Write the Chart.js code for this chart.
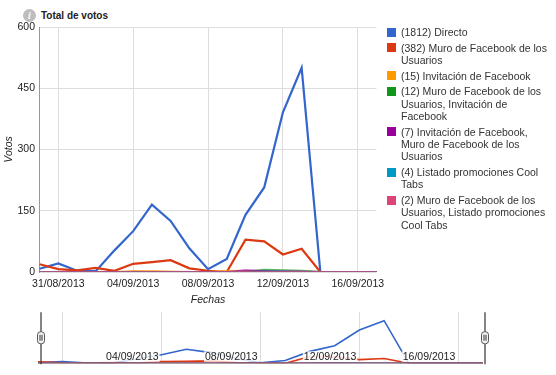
<!DOCTYPE html>
<html>
<head>
<meta charset="utf-8">
<script src="https://cdn.jsdelivr.net/npm/chart.js@4.4.0/dist/chart.umd.min.js"></script>
<style>
  body { margin: 0; width: 556px; height: 375px; background: #fff; position: relative; overflow: hidden;
         font-family: "Liberation Sans", Arial, sans-serif; color: #222; }
  #main { position: absolute; left: 0; top: 0; }
  #nav { position: absolute; left: 0; top: 300px; }
  .info { position: absolute; left: 23px; top: 9px; width: 13px; height: 13px; border-radius: 50%;
          background: #bdbdbd; color: #fff; font: bold italic 10px "Liberation Serif", serif;
          text-align: center; line-height: 13px; }
  .titulo { position: absolute; left: 41px; top: 9px; font-weight: bold; font-size: 10px; line-height: 13px; }
  #leyenda { position: absolute; left: 387px; top: 26px; width: 163px; font-size: 10.5px; line-height: 12.4px; }
  .item { display: flex; margin-bottom: 3.2px; }
  .cuadro { width: 9px; height: 9px; margin-top: 1.7px; margin-right: 5px; flex: none; }
  .texto { width: 149px; color: #333; }
</style>
</head>
<body>
<div class="info">i</div>
<div class="titulo">Total de votos</div>
<canvas id="main" width="400" height="312"></canvas>
<canvas id="nav" width="556" height="75"></canvas>
<div id="leyenda"></div>

<script>
// Fechas (una por día)
var categorias = ["30/08/2013", "31/08/2013", "01/09/2013", "02/09/2013", "03/09/2013", "04/09/2013",
  "05/09/2013", "06/09/2013", "07/09/2013", "08/09/2013", "09/09/2013", "10/09/2013", "11/09/2013",
  "12/09/2013", "13/09/2013", "14/09/2013", "15/09/2013", "16/09/2013", "17/09/2013"];

// Etiquetas de los ejes
var etiquetasX = ["31/08/2013", "04/09/2013", "08/09/2013", "12/09/2013", "16/09/2013"];
var etiquetasNav = ["04/09/2013", "08/09/2013", "12/09/2013", "16/09/2013"];
var etiquetasY = [0, 150, 300, 450, 600];

// Series
var nombres = ["(1812) Directo", "(382) Muro de Facebook de los Usuarios", "(15) Invitación de Facebook",
  "(12) Muro de Facebook de los Usuarios, Invitación de Facebook",
  "(7) Invitación de Facebook, Muro de Facebook de los Usuarios",
  "(4) Listado promociones Cool Tabs",
  "(2) Muro de Facebook de los Usuarios, Listado promociones Cool Tabs"];
var directo = [8, 21, 3, 2, 53, 100, 165, 125, 58, 7, 32, 140, 207, 391, 500, 0, 0, 0, 0];
var muroUsuarios = [19, 7, 4, 10, 3, 20, 24, 29, 9, 3, 0, 79, 75, 43, 57, 0, 0, 0, 0];
var invitacion = [0, 0, 0, 0, 0, 2, 2, 1, 0, 0, 3, 2, 2, 2, 1, 0, 0, 0, 0];
var muroInvitacion = [0, 0, 0, 0, 0, 0, 0, 0, 0, 0, 0, 0, 5, 4, 3, 0, 0, 0, 0];
var invitacionMuro = [0, 0, 0, 0, 0, 0, 0, 0, 0, 0, 0, 4, 2, 1, 0, 0, 0, 0, 0];
var listado = [0, 0, 0, 0, 0, 0, 0, 0, 0, 0, 0, 0, 1, 2, 1, 0, 0, 0, 0];
var muroListado = [0, 0, 0, 0, 0, 0, 0, 0, 0, 0, 0, 0, 0, 1, 1, 0, 0, 0, 0];
var series = [directo, muroUsuarios, invitacion, muroInvitacion, invitacionMuro, listado, muroListado];
var colores = ["#3366cc", "#dc3912", "#ff9900", "#109618", "#990099", "#0099c6", "#dd4477"];

Chart.defaults.font.family = '"Liberation Sans", Arial, sans-serif';
Chart.defaults.font.size = 10.5;
Chart.defaults.color = "#222";

// Leyenda en HTML (texto con saltos de línea)
var leyenda = document.getElementById("leyenda");
nombres.forEach(function (nombre, i) {
  var item = document.createElement("div");
  item.className = "item";
  item.innerHTML = '<div class="cuadro" style="background:' + colores[i] + '"></div><div class="texto">' + nombre + "</div>";
  leyenda.appendChild(item);
});

function crearDatasets(grosor) {
  return series.map(function (valores, i) {
    return {
      label: nombres[i],
      data: valores,
      // las series pequeñas van semitransparentes, como en el original
      borderColor: i < 2 ? colores[i] : colores[i] + "b3",
      borderWidth: grosor,
      pointRadius: 0,
      tension: 0,
      fill: false,
      order: series.length - i
    };
  });
}

function ticksX(scale) {
  scale.ticks = etiquetasX.map(function (e) { return { value: categorias.indexOf(e) }; });
}

// Gráfico principal
new Chart(document.getElementById("main"), {
  type: "line",
  data: { labels: categorias, datasets: crearDatasets(2.2) },
  options: {
    responsive: false,
    animation: false,
    layout: { padding: { top: 27, right: 23.5, left: 0, bottom: 0 } },
    plugins: { legend: { display: false }, tooltip: { enabled: false } },
    scales: {
      x: {
        offset: false,
        afterBuildTicks: ticksX,
        afterFit: function (scale) { scale.height = 40; },
        ticks: { autoSkip: false, maxRotation: 0, padding: 5.5 },
        grid: { color: "#dddddd", drawTicks: false },
        border: { display: false },
        title: { display: true, text: "Fechas", font: { style: "italic", size: 10.5 }, padding: { top: 0, bottom: 6 } }
      },
      y: {
        min: 0,
        max: 600,
        afterBuildTicks: function (scale) {
          scale.ticks = etiquetasY.map(function (v) { return { value: v }; });
        },
        afterFit: function (scale) { scale.width = 39.6; },
        ticks: { padding: 4.6 },
        grid: { color: "#dddddd", drawTicks: false },
        border: { color: "#999999" },
        title: { display: true, text: "Votos", font: { style: "italic", size: 10.5 }, padding: { top: 2.7, bottom: 0 } }
      }
    }
  }
});

// Etiquetas y tiradores del navegador inferior
var navDecoracion = {
  id: "navDecoracion",
  afterDraw: function (chart) {
    var ctx = chart.ctx;
    var area = chart.chartArea;
    var x = chart.scales.x;
    ctx.save();
    ctx.font = '10.5px "Liberation Sans", Arial, sans-serif';
    ctx.textAlign = "right";
    ctx.textBaseline = "middle";
    etiquetasNav.forEach(function (e) {
      var px = x.getPixelForValue(categorias.indexOf(e)) - 3;
      var w = ctx.measureText(e).width;
      ctx.fillStyle = "rgba(255,255,255,0.85)";
      ctx.fillRect(px - w - 1, area.bottom - 12, w + 2, 10.5);
      ctx.fillStyle = "#222";
      ctx.fillText(e, px, area.bottom - 6.6);
    });
    var medio = (area.top + area.bottom) / 2;
    [area.left + 3, area.right + 2].forEach(function (hx) {
      ctx.strokeStyle = "#333";
      ctx.lineWidth = 1.2;
      ctx.beginPath();
      ctx.moveTo(hx, area.top);
      ctx.lineTo(hx, area.bottom + 1);
      ctx.stroke();
      ctx.fillStyle = "#f4f4f4";
      ctx.strokeStyle = "#555";
      ctx.lineWidth = 1;
      ctx.beginPath();
      ctx.roundRect(hx - 3.5, medio - 6, 7, 12, 3);
      ctx.fill();
      ctx.stroke();
      ctx.fillStyle = "#333";
      ctx.fillRect(hx - 1.5, medio - 3, 1, 6);
      ctx.fillRect(hx + 0.5, medio - 3, 1, 6);
    });
    ctx.restore();
  }
};

new Chart(document.getElementById("nav"), {
  type: "line",
  data: { labels: categorias, datasets: crearDatasets(1.6) },
  options: {
    responsive: false,
    animation: false,
    layout: { padding: { top: 12.2, right: 73, left: 38, bottom: 11.7 } },
    plugins: { legend: { display: false }, tooltip: { enabled: false } },
    scales: {
      x: {
        offset: false,
        afterBuildTicks: ticksX,
        ticks: { display: false, autoSkip: false },
        grid: { color: "#dddddd", drawTicks: false },
        border: { display: false }
      },
      y: { display: false, min: 0, max: 600 }
    }
  },
  plugins: [navDecoracion]
});
</script>
</body>
</html>
